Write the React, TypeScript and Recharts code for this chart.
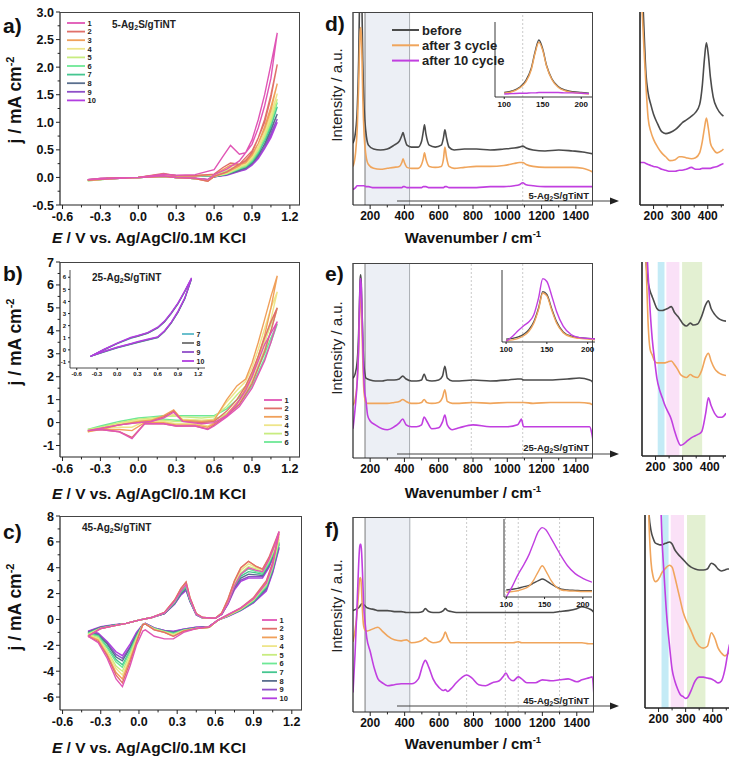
import React from 'react';
import { LineChart, Line, XAxis, YAxis, ReferenceArea, ReferenceLine } from 'recharts';

const FONT = 'Liberation Sans, Arial, Helvetica, sans-serif';

// ---------- CV colours (cycles 1..10)
const CYCLE_COLORS = ['#e055b5', '#e0706a', '#f0a05a', '#eee58a', '#c8ec80', '#6ee896', '#45c690', '#5a6f8e', '#8f4fc8', '#b23ee0'];
const INSET_COLORS = ['#5ab8c8', '#6f6f6f', '#8f4fc8', '#b23ee0'];
const RAMAN_COLORS = ['#4b4b4b', '#f0a55c', '#c13fe0'];
const RAMAN_LABELS = ['before', 'after 3 cycle', 'after 10 cycle'];
const BAND_COLORS = ['#c4ebf6', '#fae1f7', '#e3f0d2'];

// ---------- tick labels
const CV_XTICKS = [-0.6, -0.3, 0, 0.3, 0.6, 0.9, 1.2];
const CV_XMINOR = [-0.45, -0.15, 0.15, 0.45, 0.75, 1.05];
const A_YTICKS = [-0.5, 0, 0.5, 1, 1.5, 2, 2.5, 3];
const A_YMINOR = [-0.25, 0.25, 0.75, 1.25, 1.75, 2.25, 2.75];
const B_YTICKS = [-1, 0, 1, 2, 3, 4, 5, 6, 7];
const B_YMINOR = [-0.5, 0.5, 1.5, 2.5, 3.5, 4.5, 5.5, 6.5];
const BI_YTICKS = [-1, 0, 1, 2, 3, 4, 5, 6];
const C_YTICKS = [-6, -4, -2, 0, 2, 4, 6, 8];
const C_YMINOR = [-5, -3, -1, 1, 3, 5, 7];
const R_XTICKS = [200, 400, 600, 800, 1000, 1200, 1400];
const R_XMINOR = [300, 500, 700, 900, 1100, 1300];
const Z_XTICKS = [200, 300, 400];
const Z_XMINOR = [250, 350, 450];
const IN_XTICKS = [100, 150, 200];

// ---------- a) 5-Ag2S/gTiNT
const A_E = [-0.4, -0.3, -0.2, 0, 0.2, 0.3, 0.45, 0.6, 0.67, 0.73, 0.8, 0.85, 0.9, 0.95, 1.0, 1.05, 1.1,
  1.05, 1.0, 0.95, 0.9, 0.8, 0.7, 0.6, 0.55, 0.45, 0.3, 0.2, 0, -0.2, -0.4];
const A1 = [-0.04, -0.02, -0.01, 0, 0.06, 0.04, 0.05, 0.14, 0.38, 0.58, 0.42, 0.45, 0.68, 1.05, 1.5, 2.05, 2.62, 1.8, 1.3, 0.9, 0.6, 0.3, 0.15, 0.05, -0.04, -0.01, 0, 0.03, 0, -0.02, -0.04];
const A2 = [-0.04, -0.02, -0.01, 0, 0.07, 0.03, 0.03, 0.06, 0.18, 0.26, 0.24, 0.3, 0.45, 0.72, 1.05, 1.5, 2.05, 1.45, 1.0, 0.72, 0.48, 0.24, 0.1, 0.02, -0.07, -0.02, 0, 0.02, 0, -0.02, -0.05];
const A3 = [-0.05, -0.03, -0.01, 0, 0.06, 0.03, 0.03, 0.05, 0.14, 0.22, 0.23, 0.27, 0.4, 0.62, 0.92, 1.28, 1.7, 1.22, 0.88, 0.62, 0.42, 0.21, 0.09, 0.02, -0.07, -0.02, 0, 0.02, 0, -0.02, -0.05];
const A4 = [-0.05, -0.03, -0.01, 0, 0.06, 0.03, 0.03, 0.05, 0.12, 0.18, 0.2, 0.24, 0.36, 0.55, 0.82, 1.15, 1.52, 1.1, 0.8, 0.56, 0.38, 0.19, 0.08, 0.02, -0.06, -0.02, 0, 0.02, 0, -0.02, -0.05];
const A5 = [-0.06, -0.03, -0.01, 0, 0.05, 0.03, 0.03, 0.04, 0.1, 0.15, 0.18, 0.22, 0.33, 0.5, 0.76, 1.07, 1.42, 1.02, 0.74, 0.52, 0.35, 0.17, 0.07, 0.02, -0.05, -0.02, 0, 0.02, 0, -0.02, -0.06];
const A6 = [-0.06, -0.03, -0.01, 0, 0.05, 0.03, 0.03, 0.04, 0.09, 0.13, 0.16, 0.2, 0.3, 0.47, 0.72, 1.02, 1.36, 0.98, 0.7, 0.49, 0.33, 0.16, 0.06, 0.02, -0.05, -0.02, 0, 0.02, 0, -0.02, -0.06];
const A7 = [-0.05, -0.03, -0.01, 0, 0.05, 0.03, 0.03, 0.03, 0.08, 0.12, 0.15, 0.19, 0.28, 0.44, 0.67, 0.96, 1.28, 0.92, 0.66, 0.46, 0.31, 0.15, 0.06, 0.02, -0.05, -0.02, 0, 0.02, 0, -0.02, -0.05];
const A8 = [-0.05, -0.03, -0.01, 0, 0.04, 0.03, 0.03, 0.03, 0.07, 0.11, 0.14, 0.17, 0.26, 0.4, 0.61, 0.88, 1.15, 0.85, 0.6, 0.42, 0.28, 0.13, 0.05, 0.01, -0.04, -0.02, 0, 0.02, 0, -0.02, -0.05];
const A9 = [-0.04, -0.03, -0.01, 0, 0.04, 0.03, 0.03, 0.03, 0.06, 0.1, 0.12, 0.15, 0.24, 0.37, 0.56, 0.8, 1.06, 0.78, 0.56, 0.38, 0.26, 0.12, 0.05, 0.01, -0.04, -0.02, 0, 0.02, 0, -0.02, -0.04];
const A10 = [-0.04, -0.02, -0.01, 0, 0.04, 0.03, 0.03, 0.02, 0.05, 0.09, 0.11, 0.14, 0.22, 0.34, 0.52, 0.75, 1.0, 0.72, 0.52, 0.35, 0.24, 0.11, 0.04, 0.01, -0.04, -0.02, 0, 0.02, 0, -0.02, -0.04];

// ---------- b) 25-Ag2S/gTiNT, cycles 1..6 (main) and 7..10 (inset)
const B_E = [-0.4, -0.3, -0.15, 0, 0.1, 0.2, 0.28, 0.35, 0.5, 0.6, 0.7, 0.78, 0.85, 0.9, 0.95, 1.0, 1.05, 1.1,
  1.05, 1.0, 0.9, 0.8, 0.7, 0.6, 0.55, 0.45, 0.3, 0.2, 0.05, -0.05, -0.15, -0.3, -0.4];
const B1 = [-0.35, -0.25, -0.1, 0, 0.05, 0.2, 0.45, 0.05, -0.05, 0, 0.3, 0.8, 1.4, 2.0, 2.7, 3.4, 3.9, 4.4, 3.5, 2.7, 1.5, 0.7, 0.25, -0.15, -0.3, -0.15, -0.15, -0.05, -0.05, -0.7, -0.4, -0.3, -0.35];
const B2 = [-0.35, -0.25, -0.1, 0, 0.05, 0.25, 0.5, 0.05, 0, 0.05, 0.5, 1.0, 1.6, 2.2, 2.9, 3.7, 4.4, 5.0, 4.0, 3.1, 1.7, 0.8, 0.3, -0.1, -0.28, -0.15, -0.15, -0.05, -0.05, -0.65, -0.4, -0.3, -0.35];
const B3 = [-0.4, -0.3, -0.1, 0.05, 0.1, 0.3, 0.55, 0.1, 0.05, 0.1, 1.0, 1.6, 1.9, 2.6, 3.5, 4.5, 5.5, 6.4, 5.0, 3.8, 2.0, 1.0, 0.35, -0.05, -0.2, -0.1, -0.1, 0, 0, -0.35, -0.3, -0.3, -0.4];
const B4 = [-0.4, -0.25, -0.05, 0.1, 0.15, 0.25, 0.35, 0.15, 0.1, 0.15, 0.9, 1.4, 1.8, 2.4, 3.2, 4.1, 5.0, 5.7, 4.5, 3.5, 1.9, 0.9, 0.35, 0, -0.15, -0.05, -0.05, 0.05, 0.05, -0.2, -0.2, -0.25, -0.35];
const B5 = [-0.35, -0.2, 0, 0.15, 0.2, 0.25, 0.3, 0.25, 0.2, 0.25, 0.7, 1.2, 1.6, 2.1, 2.8, 3.5, 4.3, 5.0, 4.0, 3.2, 1.8, 0.9, 0.4, 0.1, 0, 0.05, 0.05, 0.1, 0.1, 0, -0.1, -0.2, -0.3];
const B6 = [-0.3, -0.15, 0.05, 0.2, 0.25, 0.3, 0.3, 0.3, 0.3, 0.3, 0.6, 1.0, 1.4, 1.8, 2.4, 3.0, 3.7, 4.3, 3.5, 2.8, 1.6, 0.8, 0.35, 0.15, 0.05, 0.1, 0.1, 0.15, 0.1, 0.05, -0.05, -0.15, -0.3];
const BI_E = [-0.4, -0.2, 0, 0.2, 0.3, 0.45, 0.6, 0.7, 0.8, 0.9, 1.0, 1.1, 1.0, 0.9, 0.8, 0.7, 0.6, 0.45, 0.3, 0.2, 0, -0.2, -0.4];
const B7 = [-0.55, 0, 0.5, 0.95, 1.1, 1.35, 1.8, 2.3, 3.0, 3.8, 4.8, 5.85, 4.2, 3.1, 2.2, 1.5, 1.0, 0.8, 0.6, 0.45, 0.15, -0.2, -0.55];
const B8 = [-0.55, 0, 0.52, 0.98, 1.12, 1.38, 1.82, 2.32, 3.02, 3.82, 4.82, 5.88, 4.22, 3.12, 2.22, 1.52, 1.02, 0.82, 0.62, 0.47, 0.17, -0.18, -0.55];
const B9 = [-0.55, 0.02, 0.55, 1.0, 1.15, 1.4, 1.85, 2.35, 3.05, 3.85, 4.85, 5.9, 4.25, 3.15, 2.25, 1.55, 1.05, 0.85, 0.65, 0.5, 0.2, -0.15, -0.55];
const B10 = [-0.55, 0.04, 0.57, 1.03, 1.18, 1.43, 1.88, 2.38, 3.08, 3.88, 4.88, 5.95, 4.3, 3.2, 2.3, 1.58, 1.08, 0.88, 0.68, 0.52, 0.22, -0.12, -0.55];

// ---------- c) 45-Ag2S/gTiNT
const C_E = [-0.4, -0.3, -0.2, -0.1, 0, 0.1, 0.2, 0.28, 0.33, 0.37, 0.4, 0.45, 0.5, 0.6, 0.65, 0.7, 0.75, 0.8, 0.86, 0.92, 0.97, 1.02, 1.06, 1.1,
  1.05, 1.0, 0.9, 0.8, 0.7, 0.62, 0.55, 0.45, 0.35, 0.27, 0.2, 0.12, 0.05, 0.03, -0.02, -0.07, -0.13, -0.18, -0.25, -0.32, -0.4];
const C1 = [-1.3, -0.7, -0.5, -0.3, -0.05, 0.15, 0.5, 1.4, 2.2, 2.7, 1.6, 0.4, 0.15, 0.1, 0.4, 1.3, 2.6, 3.5, 4.0, 3.8, 3.7, 4.6, 5.6, 6.8, 4.2, 2.8, 1.6, 0.9, 0.4, -0.05, -0.55, -0.7, -1.0, -1.5, -1.5, -1.3, -0.8, -0.9, -2.0, -3.6, -5.2, -4.6, -3.0, -1.8, -1.3];
const C2 = [-1.3, -0.7, -0.5, -0.3, -0.05, 0.15, 0.55, 1.5, 2.4, 2.9, 1.7, 0.45, 0.15, 0.1, 0.5, 1.6, 3.0, 4.0, 4.5, 4.1, 3.9, 4.8, 5.8, 6.8, 4.4, 3.0, 1.7, 0.9, 0.35, -0.05, -0.6, -0.7, -0.9, -1.3, -1.0, -0.8, -0.35, -0.4, -1.8, -3.3, -4.9, -4.3, -2.8, -1.7, -1.3];
const C3 = [-1.25, -0.7, -0.5, -0.3, -0.05, 0.15, 0.55, 1.5, 2.4, 2.9, 1.7, 0.45, 0.15, 0.1, 0.5, 1.6, 3.0, 4.0, 4.5, 4.1, 3.9, 4.7, 5.6, 6.6, 4.3, 2.9, 1.6, 0.85, 0.35, -0.05, -0.6, -0.7, -0.9, -1.3, -1.0, -0.8, -0.35, -0.4, -1.7, -3.1, -4.6, -4.1, -2.7, -1.6, -1.25];
const C4 = [-1.2, -0.7, -0.5, -0.3, -0.05, 0.15, 0.55, 1.45, 2.35, 2.8, 1.65, 0.45, 0.15, 0.1, 0.5, 1.5, 2.9, 3.8, 4.3, 4.0, 3.8, 4.6, 5.5, 6.4, 4.2, 2.8, 1.6, 0.85, 0.35, -0.05, -0.6, -0.7, -0.9, -1.2, -1.0, -0.75, -0.35, -0.4, -1.6, -2.9, -4.3, -3.8, -2.5, -1.5, -1.2];
const C5 = [-1.15, -0.7, -0.5, -0.3, -0.05, 0.15, 0.5, 1.4, 2.3, 2.7, 1.6, 0.45, 0.15, 0.1, 0.5, 1.45, 2.8, 3.6, 4.1, 3.9, 3.7, 4.5, 5.4, 6.2, 4.1, 2.7, 1.5, 0.8, 0.3, -0.05, -0.6, -0.7, -0.85, -1.15, -0.95, -0.75, -0.35, -0.4, -1.5, -2.7, -4.0, -3.6, -2.4, -1.4, -1.15];
const C6 = [-1.1, -0.65, -0.5, -0.3, -0.05, 0.15, 0.5, 1.35, 2.2, 2.6, 1.55, 0.4, 0.12, 0.1, 0.45, 1.4, 2.7, 3.5, 3.9, 3.7, 3.6, 4.4, 5.3, 6.0, 4.0, 2.6, 1.5, 0.8, 0.3, -0.05, -0.6, -0.7, -0.85, -1.1, -0.95, -0.7, -0.35, -0.4, -1.4, -2.5, -3.7, -3.3, -2.2, -1.3, -1.1];
const C7 = [-1.05, -0.65, -0.45, -0.3, -0.05, 0.15, 0.5, 1.3, 2.1, 2.5, 1.5, 0.4, 0.12, 0.1, 0.45, 1.35, 2.6, 3.35, 3.7, 3.6, 3.5, 4.3, 5.2, 5.9, 3.9, 2.5, 1.4, 0.75, 0.3, -0.05, -0.6, -0.65, -0.8, -1.05, -0.9, -0.7, -0.35, -0.4, -1.3, -2.4, -3.5, -3.1, -2.1, -1.25, -1.05];
const C8 = [-1.0, -0.6, -0.45, -0.3, -0.05, 0.15, 0.45, 1.25, 2.0, 2.4, 1.45, 0.4, 0.12, 0.1, 0.4, 1.3, 2.5, 3.2, 3.5, 3.45, 3.4, 4.2, 5.1, 5.8, 3.8, 2.4, 1.4, 0.75, 0.3, -0.05, -0.55, -0.65, -0.8, -1.0, -0.9, -0.7, -0.35, -0.4, -1.2, -2.2, -3.2, -2.9, -1.9, -1.2, -1.0];
const C9 = [-0.95, -0.6, -0.45, -0.3, -0.05, 0.15, 0.45, 1.2, 1.95, 2.3, 1.4, 0.35, 0.1, 0.1, 0.4, 1.25, 2.4, 3.05, 3.3, 3.3, 3.3, 4.1, 5.0, 5.6, 3.7, 2.3, 1.3, 0.7, 0.25, -0.05, -0.55, -0.6, -0.75, -0.95, -0.85, -0.65, -0.3, -0.4, -1.1, -2.1, -3.0, -2.7, -1.8, -1.1, -0.95];
const C10 = [-0.9, -0.55, -0.4, -0.3, -0.05, 0.15, 0.45, 1.2, 1.9, 2.25, 1.4, 0.35, 0.1, 0.1, 0.4, 1.2, 2.3, 2.95, 3.2, 3.2, 3.2, 4.0, 4.9, 5.5, 3.6, 2.2, 1.3, 0.7, 0.25, -0.05, -0.55, -0.6, -0.75, -0.9, -0.85, -0.65, -0.3, -0.4, -1.0, -1.9, -2.8, -2.5, -1.7, -1.05, -0.9];

// ---------- d) Raman 5-Ag2S/gTiNT (intensity in % of panel height)
const D_X = [100, 115, 125, 133, 138, 142, 145, 148, 152, 157, 165, 175, 190, 220, 260, 300, 340, 370, 385, 392, 400, 415, 440, 480, 500, 510, 517, 525, 545, 580, 615, 628, 636, 645, 660, 690, 750, 820, 900, 980, 1040, 1070, 1090, 1110, 1150, 1220, 1300, 1380, 1440, 1500];
const D_BEFORE = [32, 38, 50, 75, 105, 130, 140, 130, 105, 75, 50, 38, 31, 29, 28.5, 29, 31, 33, 36, 37.5, 35, 31, 30, 30, 33, 38, 41.5, 37, 31, 30, 31, 35, 39, 35, 30, 28.5, 29, 29, 28.5, 29, 29.5, 30, 30.5, 29.5, 28.5, 28, 28.5, 28, 27.5, 26.5];
const D_THREE = [20, 27, 40, 62, 80, 90, 92, 89, 78, 56, 36, 26, 21, 19, 18.5, 19, 19.5, 20, 22, 24, 22, 19.5, 19, 19, 21, 24, 27, 24, 20, 19.5, 20, 24, 30, 25, 20, 19, 19.5, 20, 20, 20.5, 21.5, 22, 22, 21, 20, 19.5, 19.5, 19.5, 19, 17];
const D_TEN = [8, 9, 10, 10, 10, 10, 10, 10, 10, 10, 10, 9.5, 9.5, 9, 9, 9, 9, 9, 9, 9.5, 9.5, 9, 9, 9, 9, 9.5, 9.5, 9.5, 9, 9, 9, 9, 9.5, 9.5, 9, 9, 9, 9, 9.5, 9.5, 10, 10.5, 11.5, 10.5, 10, 9.5, 9.5, 9.5, 9.5, 9.5];
const DI_X = [100, 110, 120, 128, 135, 140, 145, 150, 155, 162, 170, 180, 190, 200, 210];
const DI_BEFORE = [6, 8, 13, 22, 38, 60, 76, 64, 42, 24, 14, 9, 7, 6, 5];
const DI_THREE = [5, 7, 12, 20, 36, 58, 73, 62, 41, 23, 13, 8, 6, 5, 4];
const DI_TEN = [4, 4.5, 5, 5, 5.5, 5.5, 6, 6, 6, 6, 6, 5.5, 5.5, 5, 4.5];
const DR_X = [150, 158, 165, 172, 180, 190, 200, 215, 230, 245, 260, 280, 295, 305, 320, 340, 355, 370, 380, 388, 395, 402, 410, 420, 435, 450, 458];
const DR_BEFORE = [140, 115, 90, 68, 58, 52, 47, 42, 38, 37, 37.5, 39, 41, 42.5, 44, 46, 48, 52, 62, 76, 84, 78, 66, 56, 50, 47, 46];
const DR_THREE = [120, 100, 80, 62, 45, 38, 34, 30, 27, 25, 23, 23.5, 25, 25, 24.5, 24, 24.5, 27, 33, 40, 45, 40, 32, 29, 27, 28, 29];
const DR_TEN = [22, 22, 22, 21.5, 21, 20.5, 20, 19.5, 18.5, 18, 17.5, 17.5, 18, 18, 18.5, 19.5, 18.5, 18.5, 19, 19, 19, 19, 19, 19.5, 20, 21, 21.5];

// ---------- e) Raman 25-Ag2S/gTiNT
const E_X = [100, 112, 125, 133, 138, 142, 145, 148, 152, 157, 162, 168, 175, 185, 200, 230, 270, 300, 340, 370, 390, 410, 440, 470, 500, 515, 530, 560, 600, 622, 636, 650, 680, 720, 800, 900, 1000, 1060, 1075, 1082, 1095, 1150, 1250, 1350, 1420, 1480, 1492, 1500];
const E_BEFORE = [41, 43, 50, 64, 80, 92, 94, 90, 78, 62, 50, 44, 41, 40.5, 40, 39.5, 39.5, 40, 40, 40.5, 42, 40.5, 39.5, 39.5, 40, 43, 40, 39.5, 40, 42, 47, 41, 39.5, 39.5, 40, 39.5, 40, 40.5, 40.5, 40.5, 40, 40, 40, 40.5, 41, 40, 39.5, 38.5];
const E_THREE = [27, 30, 40, 55, 72, 83, 85, 81, 68, 50, 37, 31, 28.5, 28, 28, 28, 28, 28, 28.5, 29, 30, 29, 28, 28, 28.5, 30, 28.5, 28, 28.5, 31, 35, 29, 28, 28, 28.5, 28, 28.5, 28.5, 28.5, 28.5, 28.5, 28, 28.5, 28.5, 28.5, 28, 27.5, 27];
const E_TEN = [15, 25, 40, 58, 78, 90, 92, 88, 76, 60, 44, 34, 30, 22, 19, 17, 15, 14.5, 16, 18, 20, 17, 16, 16, 17, 21, 19, 15, 15.5, 18.5, 22, 17, 14.5, 15.5, 17, 16, 16, 17, 19, 20, 16, 16, 16, 16, 16, 16, 13, 9];
const EI_X = [100, 108, 115, 122, 128, 134, 140, 145, 150, 156, 162, 170, 180, 190, 200, 210];
const EI_BEFORE = [4, 5, 7, 11, 17, 28, 48, 70, 66, 46, 28, 14, 8, 6, 5, 4];
const EI_THREE = [2, 3, 5, 9, 15, 26, 46, 68, 64, 44, 26, 13, 7, 5, 4, 3];
const EI_TEN = [1, 8, 16, 23, 28, 38, 62, 88, 84, 64, 42, 22, 10, 6, 5, 4];
const ER_X = [155, 165, 172, 180, 188, 196, 205, 215, 225, 235, 245, 258, 270, 282, 292, 302, 315, 328, 340, 355, 370, 385, 395, 405, 418, 432, 445, 460];
const ER_BEFORE = [130, 100, 90, 85, 82, 79, 76, 75, 75, 75.5, 76, 77, 74, 72, 70, 68, 67, 68.5, 67.5, 68, 72, 78, 80, 76, 73, 71, 70, 69.5];
const ER_THREE = [130, 100, 70, 55, 52, 49, 48, 48, 48, 48, 48.5, 49, 47, 44.5, 42, 41, 40.5, 42, 41, 40.5, 44, 51, 53, 49, 45, 43, 42, 41.5];
const ER_TEN = [130, 115, 95, 75, 60, 50, 40, 34, 30, 26, 23, 19, 13, 8, 5.5, 6, 7.5, 9, 10, 11, 12.5, 22, 30, 26, 22, 20, 20, 22];
const ER_BANDS = [[208, 233], [240, 288], [298, 372]];

// ---------- f) Raman 45-Ag2S/gTiNT
const F_X = [100, 112, 125, 133, 138, 142, 146, 150, 155, 162, 170, 180, 200, 225, 245, 270, 300, 340, 380, 410, 440, 480, 505, 520, 540, 565, 600, 625, 636, 650, 670, 700, 730, 760, 790, 830, 870, 910, 950, 975, 988, 1005, 1030, 1060, 1080, 1110, 1160, 1200, 1250, 1300, 1350, 1400, 1430, 1470, 1490, 1500];
const F_BEFORE = [52, 52.5, 53, 53.5, 54, 54.5, 55, 55.5, 55.5, 55, 54.5, 53.5, 53, 52.5, 52, 52, 52, 51.5, 51.5, 51, 51, 51, 51.5, 53, 51.5, 51, 51, 52, 53, 52, 51.5, 51, 51, 51, 51, 51, 51, 51, 51, 51, 51, 51, 51, 51, 51, 51, 51, 51, 51, 51.5, 52, 53, 54, 53, 52, 51];
const F_THREE = [36, 42, 52, 62, 68, 69, 68, 62, 52, 44, 42, 41.5, 42, 43, 43.5, 41.5, 39, 37, 36.5, 37, 35.5, 36, 37, 38, 36.5, 35.5, 36, 38.5, 41, 38, 35.5, 35.5, 35.5, 35.5, 35.5, 35.5, 35.5, 35.5, 35.5, 35.5, 35.5, 35.5, 35.5, 36, 35.5, 35.5, 35.5, 35.5, 35.5, 35.5, 35.5, 35.5, 35.5, 35, 35, 35];
const F_TEN = [10, 30, 58, 76, 84, 86, 86, 82, 72, 55, 46, 38, 31, 22, 17, 15, 13.5, 14, 14.5, 14.5, 14.5, 17, 24, 26.5, 23, 17, 12.5, 11, 11.5, 10.5, 12, 15, 17.5, 19, 17.5, 14, 13.5, 15, 16, 18.5, 20, 17.5, 16, 18, 17, 15, 15, 16.5, 16, 16.5, 17, 15.5, 16.5, 17.5, 18, 8];
const FI_X = [100, 108, 115, 122, 130, 136, 142, 147, 152, 158, 165, 172, 180, 190, 200, 212];
const FI_BEFORE = [9, 10, 11, 13, 15, 18, 21, 23, 21, 17, 13, 10, 9, 8.5, 8, 8];
const FI_THREE = [6, 7, 8, 10, 14, 22, 33, 40, 33, 22, 13, 9, 8, 7.5, 7, 7];
const FI_TEN = [0, 14, 28, 40, 55, 70, 84, 89, 86, 76, 64, 52, 40, 30, 24, 19];
const FR_X = [158, 165, 172, 180, 188, 196, 205, 212, 220, 230, 240, 250, 260, 270, 280, 290, 300, 310, 320, 335, 350, 365, 380, 395, 408, 420, 432, 445, 455, 462];
const FR_BEFORE = [120, 100, 92, 88, 85.5, 85, 84.5, 84.5, 85, 85.5, 86, 85, 82, 80, 78.5, 77, 75.5, 74, 73, 72, 71.5, 71.5, 72, 75, 74, 72, 71, 71.5, 72, 72];
const FR_THREE = [130, 95, 76, 68, 65.5, 66, 68, 70, 71.5, 73, 74, 73, 68, 62, 56, 50, 46, 43, 40, 35, 32, 31, 32, 39, 36, 31, 28.5, 27, 28, 29];
const FR_TEN = [150, 150, 150, 150, 150, 150, 120, 90, 70, 48, 33, 20, 14, 10, 7, 6, 5, 6, 9, 14, 16, 16, 15.5, 15, 14, 13, 14, 20, 28, 33];
const FR_BANDS = [[211, 237], [245, 294], [305, 373]];

const D_GUIDES = [1090];
const E_GUIDES = [790, 1090];
const F_GUIDES = [760, 985, 1060, 1300];

type Pt = { x: number; y: number };
const toPts = (xs: number[], ys: number[]): Pt[] => xs.map((x, i) => ({ x, y: ys[i] }));
const near = (v: number, list: number[]) => list.some((t) => Math.abs(t - v) < 1e-6);

type Rect = { x: number; y: number; w: number; h: number };

function xTick(labels: number[], fmt: (v: number) => string, fs: number, len: number) {
  return (p: any) => {
    const v = p.payload.value;
    const major = near(v, labels);
    return (
      <g>
        <line x1={p.x} x2={p.x} y1={p.y} y2={p.y + (major ? len : len * 0.6)} stroke="#222" strokeWidth={1} />
        {major && (
          <text x={p.x} y={p.y + len + fs * 0.95} textAnchor="middle" fontSize={fs} fontWeight={700} fontFamily={FONT} fill="#111">
            {fmt(v)}
          </text>
        )}
      </g>
    );
  };
}

function yTick(labels: number[], fmt: (v: number) => string, fs: number, len: number) {
  return (p: any) => {
    const v = p.payload.value;
    const major = near(v, labels);
    return (
      <g>
        <line x1={p.x} x2={p.x - (major ? len : len * 0.6)} y1={p.y} y2={p.y} stroke="#222" strokeWidth={1} />
        {major && (
          <text x={p.x - len - 2} y={p.y + fs * 0.36} textAnchor="end" fontSize={fs} fontWeight={700} fontFamily={FONT} fill="#111">
            {fmt(v)}
          </text>
        )}
      </g>
    );
  };
}

type FrameProps = {
  r: Rect;
  xd: [number, number];
  yd: [number, number];
  xl: number[];
  xm?: number[];
  yl?: number[];
  ym?: number[];
  fx: (v: number) => string;
  fy?: (v: number) => string;
  fs?: number;
  len?: number;
  box?: boolean;
  axisW?: number;
  children: React.ReactNode;
};

function Frame({ r, xd, yd, xl, xm = [], yl = [], ym = [], fx, fy = (v) => String(v), fs = 12, len = 4, box = false, axisW = 1.2, children }: FrameProps) {
  const padL = 44;
  const padT = 6;
  const padR = 6;
  const padB = 30;
  const xt = [...xl, ...xm].sort((a, b) => a - b);
  const yt = [...yl, ...ym].sort((a, b) => a - b);
  return (
    <div style={{ position: 'absolute', left: r.x - padL, top: r.y - padT }}>
      <LineChart width={r.w + padL + padR} height={r.h + padT + padB} margin={{ top: padT, right: padR, bottom: 0, left: 0 }}>
        <XAxis type="number" dataKey="x" domain={xd} allowDataOverflow height={padB} ticks={xt} interval={0}
          tickSize={0} tickMargin={0} tickLine={false} tick={xTick(xl, fx, fs, len)} axisLine={{ stroke: '#222', strokeWidth: axisW }} />
        <YAxis type="number" dataKey="y" domain={yd} allowDataOverflow width={padL} ticks={yt.length ? yt : undefined} interval={0}
          tickSize={0} tickMargin={0} tickLine={false} tick={yt.length ? yTick(yl, fy, fs, len) : false} axisLine={{ stroke: '#222', strokeWidth: axisW }} />
        {children}
      </LineChart>
      {box && (
        <div style={{ position: 'absolute', left: padL, top: padT, width: r.w, height: r.h, borderTop: '1px solid #444', borderRight: '1px solid #444', boxSizing: 'border-box', pointerEvents: 'none' }} />
      )}
    </div>
  );
}

const f1 = (v: number) => v.toFixed(1);
const f0 = (v: number) => String(v);

function cvLines(E: number[], cycles: number[][], colors: string[], w = 1.4) {
  return cycles.map((ys, i) => (
    <Line key={i} data={toPts(E, ys)} dataKey="y" type="linear" stroke={colors[i]} strokeWidth={w} dot={false} isAnimationActive={false} />
  ));
}

function ramanLines(xs: number[], sets: number[][], w = 1.6) {
  return sets.map((ys, i) => (
    <Line key={i} data={toPts(xs, ys)} dataKey="y" type="monotone" stroke={RAMAN_COLORS[i]} strokeWidth={w} dot={false} isAnimationActive={false} />
  ));
}

function shade(guides: number[]) {
  return [
    <ReferenceArea key="sa" x1={170} x2={430} fill="#eceff5" fillOpacity={1} stroke="none" />,
    <ReferenceLine key="s1" x={170} stroke="#7a7a7a" strokeWidth={1} />,
    <ReferenceLine key="s2" x={430} stroke="#a9adb3" strokeWidth={1} />,
    ...guides.map((g) => <ReferenceLine key={'g' + g} x={g} stroke="#bdbdbd" strokeWidth={0.8} strokeDasharray="2 2" />),
  ];
}

function bands(list: number[][]) {
  return list.map((b, i) => <ReferenceArea key={'b' + i} x1={b[0]} x2={b[1]} fill={BAND_COLORS[i]} fillOpacity={1} stroke="none" />);
}

function Sample({ x, y, n, fs, anchor = 'start' }: { x: number; y: number; n: string; fs: number; anchor?: 'start' | 'end' }) {
  return (
    <text x={x} y={y} fontSize={fs} fontWeight={700} fontFamily={FONT} textAnchor={anchor} fill="#222">
      {n}-Ag<tspan fontSize={fs * 0.7} dy={fs * 0.18}>2</tspan>
      <tspan dy={-fs * 0.18}>S/gTiNT</tspan>
    </text>
  );
}

function CycleLegend({ x, y, step, labels, colors, fs, len }: { x: number; y: number; step: number; labels: string[]; colors: string[]; fs: number; len: number }) {
  return (
    <g>
      {labels.map((l, i) => (
        <g key={l}>
          <line x1={x} x2={x + len} y1={y + i * step} y2={y + i * step} stroke={colors[i]} strokeWidth={1.8} />
          <text x={x + len + 2.5} y={y + i * step + fs * 0.36} fontSize={fs} fontWeight={700} fontFamily={FONT} fill="#222">{l}</text>
        </g>
      ))}
    </g>
  );
}

function Arrow({ y }: { y: number }) {
  return (
    <g>
      <line x1={397} x2={611} y1={y} y2={y} stroke="#444" strokeWidth={1.2} />
      <polygon points={`619,${y} 610,${y - 3.5} 610,${y + 3.5}`} fill="#222" />
    </g>
  );
}

function CvTitle({ x, y }: { x: number; y: number }) {
  return (
    <text x={x} y={y} textAnchor="middle" fontSize={15.5} fontWeight={700} fontFamily={FONT} fill="#111">
      <tspan fontStyle="italic">E</tspan> / V vs. Ag/AgCl/0.1M KCI
    </text>
  );
}

function JTitle({ x, y }: { x: number; y: number }) {
  return (
    <text transform={`translate(${x},${y}) rotate(-90)`} textAnchor="middle" fontSize={17.5} fontWeight={700} fontFamily={FONT} fill="#111">
      j / mA cm<tspan fontSize={11} dy={-7}>-2</tspan>
    </text>
  );
}

function WaveTitle({ x, y }: { x: number; y: number }) {
  return (
    <text x={x} y={y} textAnchor="middle" fontSize={15} fontWeight={700} fontFamily={FONT} fill="#111">
      Wavenumber / cm<tspan fontSize={9.5} dy={-6}>-1</tspan>
    </text>
  );
}

function ITitle({ x, y }: { x: number; y: number }) {
  return (
    <text transform={`translate(${x},${y}) rotate(-90)`} textAnchor="middle" fontSize={15} fontFamily={FONT} fill="#222">
      Intensity / a.u.
    </text>
  );
}

function Letter({ x, y, t }: { x: number; y: number; t: string }) {
  return (
    <text x={x} y={y} fontSize={21} fontWeight={700} fontFamily={FONT} fill="#111">{t}</text>
  );
}

const CYC = ['1', '2', '3', '4', '5', '6', '7', '8', '9', '10'];

export default function App() {
  const raman = (fs = 12) => ({ xd: [100, 1500] as [number, number], yd: [0, 100] as [number, number], xl: R_XTICKS, xm: R_XMINOR, fx: f0, fs, box: true });
  const zoom = { xd: [150, 460] as [number, number], yd: [0, 100] as [number, number], xl: Z_XTICKS, xm: Z_XMINOR, fx: f0, axisW: 1.6 };
  return (
    <div style={{ position: 'relative', width: 733, height: 759, background: '#fff', overflow: 'hidden' }}>
      <style>{'body{margin:0}'}</style>

      {/* a) */}
      <Frame r={{ x: 60, y: 12, w: 240, h: 193 }} xd={[-0.62, 1.28]} yd={[-0.5, 3]} xl={CV_XTICKS} xm={CV_XMINOR} yl={A_YTICKS} ym={A_YMINOR} fx={f1} fy={f1} box fs={12.5}>
        {cvLines(A_E, [A10, A9, A8, A7, A6, A5, A4, A3, A2, A1], [...CYCLE_COLORS].reverse())}
      </Frame>
      {/* b) */}
      <Frame r={{ x: 60, y: 262, w: 240, h: 195 }} xd={[-0.62, 1.28]} yd={[-1.5, 7]} xl={CV_XTICKS} xm={CV_XMINOR} yl={B_YTICKS} ym={B_YMINOR} fx={f1} fy={f0} box fs={12.5}>
        {cvLines(B_E, [B6, B5, B4, B3, B2, B1], CYCLE_COLORS.slice(0, 6).reverse())}
      </Frame>
      <Frame r={{ x: 70, y: 270, w: 135, h: 98 }} xd={[-0.7, 1.3]} yd={[-1.5, 6.6]} xl={CV_XTICKS} yl={BI_YTICKS} fx={f1} fy={f0} fs={6} len={2} axisW={0.8}>
        {cvLines(BI_E, [B7, B8, B9, B10], INSET_COLORS, 1.2)}
      </Frame>
      {/* c) */}
      <Frame r={{ x: 60, y: 516, w: 242, h: 194 }} xd={[-0.62, 1.28]} yd={[-7, 8]} xl={CV_XTICKS} xm={CV_XMINOR} yl={C_YTICKS} ym={C_YMINOR} fx={f1} fy={f0} box fs={12.5}>
        {cvLines(C_E, [C10, C9, C8, C7, C6, C5, C4, C3, C2, C1], [...CYCLE_COLORS].reverse())}
      </Frame>

      {/* d) */}
      <Frame r={{ x: 353, y: 12, w: 240, h: 193 }} {...raman()}>
        {shade(D_GUIDES)}
        {ramanLines(D_X, [D_BEFORE, D_THREE, D_TEN])}
      </Frame>
      <Frame r={{ x: 495, y: 22, w: 97, h: 75 }} xd={[88, 214]} yd={[0, 100]} xl={IN_XTICKS} fx={f0} fs={8} len={2} axisW={0.9}>
        {ramanLines(DI_X, [DI_BEFORE, DI_THREE, DI_TEN], 1.4)}
      </Frame>
      <Frame r={{ x: 640, y: 12, w: 84, h: 193 }} {...zoom}>
        {ramanLines(DR_X, [DR_BEFORE, DR_THREE, DR_TEN])}
      </Frame>

      {/* e) */}
      <Frame r={{ x: 353, y: 263, w: 240, h: 195 }} {...raman()}>
        {shade(E_GUIDES)}
        {ramanLines(E_X, [E_BEFORE, E_THREE, E_TEN])}
      </Frame>
      <Frame r={{ x: 502, y: 270, w: 93, h: 72 }} xd={[95, 209]} yd={[0, 100]} xl={IN_XTICKS} fx={f0} fs={8} len={2} axisW={0.9}>
        {ramanLines(EI_X, [EI_BEFORE, EI_THREE, EI_TEN], 1.4)}
      </Frame>
      <Frame r={{ x: 642, y: 262, w: 84, h: 194 }} {...zoom}>
        {bands(ER_BANDS)}
        {ramanLines(ER_X, [ER_BEFORE, ER_THREE, ER_TEN])}
      </Frame>

      {/* f) */}
      <Frame r={{ x: 353, y: 517, w: 241, h: 195 }} {...raman()}>
        {shade(F_GUIDES)}
        {ramanLines(F_X, [F_BEFORE, F_THREE, F_TEN])}
      </Frame>
      <Frame r={{ x: 504, y: 519, w: 88, h: 78 }} xd={[97, 212]} yd={[0, 100]} xl={IN_XTICKS} fx={f0} fs={8} len={2} axisW={0.9}>
        {ramanLines(FI_X, [FI_BEFORE, FI_THREE, FI_TEN], 1.4)}
      </Frame>
      <Frame r={{ x: 645, y: 515, w: 84, h: 193 }} {...zoom}>
        {bands(FR_BANDS)}
        {ramanLines(FR_X, [FR_BEFORE, FR_THREE, FR_TEN])}
      </Frame>

      {/* annotations */}
      <svg width={733} height={759} style={{ position: 'absolute', left: 0, top: 0, pointerEvents: 'none' }}>
        <Letter x={3} y={33} t="a)" />
        <Letter x={3} y={281} t="b)" />
        <Letter x={3} y={539} t="c)" />
        <Letter x={325} y={31} t="d)" />
        <Letter x={325} y={281} t="e)" />
        <Letter x={325} y={537} t="f)" />

        <JTitle x={21} y={100} />
        <JTitle x={21} y={342} />
        <JTitle x={21} y={607} />
        <CvTitle x={149} y={243} />
        <CvTitle x={149} y={499} />
        <CvTitle x={149} y={753} />

        <ITitle x={342} y={95} />
        <ITitle x={342} y={348} />
        <ITitle x={342} y={606} />
        <WaveTitle x={473} y={243} />
        <WaveTitle x={473} y={498} />
        <WaveTitle x={473} y={749} />

        <Sample x={112} y={28} n="5" fs={10} />
        <Sample x={92} y={281} n="25" fs={10} />
        <Sample x={82} y={531} n="45" fs={10} />

        <CycleLegend x={67} y={23} step={8.6} labels={CYC} colors={CYCLE_COLORS} fs={7.5} len={18} />
        <CycleLegend x={264} y={400} step={8.4} labels={CYC.slice(0, 6)} colors={CYCLE_COLORS} fs={7.5} len={18} />
        <CycleLegend x={182} y={334} step={9} labels={CYC.slice(6)} colors={INSET_COLORS} fs={7} len={12} />
        <CycleLegend x={262} y={620} step={8.7} labels={CYC} colors={CYCLE_COLORS} fs={7.5} len={15} />

        {RAMAN_LABELS.map((l, i) => (
          <g key={l}>
            <line x1={392} x2={419} y1={30 + i * 15.3} y2={30 + i * 15.3} stroke={RAMAN_COLORS[i]} strokeWidth={2} />
            <text x={422} y={30 + i * 15.3 + 4.6} fontSize={13} fontWeight={700} fontFamily={FONT} fill="#222">{l}</text>
          </g>
        ))}

        <Arrow y={201} />
        <Arrow y={454} />
        <Arrow y={706} />
        <Sample x={589} y={199} n="5" fs={9.5} anchor="end" />
        <Sample x={589} y={451} n="25" fs={9.5} anchor="end" />
        <Sample x={589} y={704} n="45" fs={9.5} anchor="end" />
      </svg>
    </div>
  );
}
